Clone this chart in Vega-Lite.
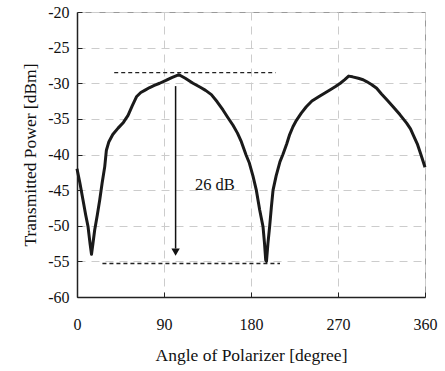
{
  "$schema": "https://vega.github.io/schema/vega-lite/v6.json",
  "autosize": "none",
  "width": 348,
  "height": 285,
  "padding": {"left": 77, "top": 12, "right": 20, "bottom": 74},
  "background": "white",
  "config": {
    "view": {"stroke": "#999999", "strokeWidth": 1},
    "font": "Liberation Serif, Times New Roman, serif",
    "axis": {
      "labelFont": "Liberation Serif, Times New Roman, serif",
      "titleFont": "Liberation Serif, Times New Roman, serif",
      "labelColor": "#111111",
      "titleColor": "#111111",
      "titleFontWeight": "normal",
      "labelFontSize": 16,
      "titleFontSize": 17.5,
      "labelOverlap": false,
      "labelFlush": false,
      "domainColor": "#222222",
      "domainWidth": 1.5,
      "tickColor": "#222222",
      "tickSize": -5,
      "gridColor": "#cccccc",
      "gridDash": [8, 6],
      "gridWidth": 1
    }
  },
  "datasets": {
    "curve": [
      {"angle": 0, "power": -42}, {"angle": 3, "power": -44}, {"angle": 6.2, "power": -46.4},
      {"angle": 9, "power": -48.5}, {"angle": 11.4, "power": -50.1}, {"angle": 13.5, "power": -52.5},
      {"angle": 15, "power": -54}, {"angle": 16.5, "power": -52.5}, {"angle": 18.3, "power": -50.6},
      {"angle": 21, "power": -48.5}, {"angle": 23.5, "power": -46.4}, {"angle": 26, "power": -44},
      {"angle": 28.7, "power": -41.7}, {"angle": 30.4, "power": -39.4}, {"angle": 33, "power": -38.2},
      {"angle": 37, "power": -37.2}, {"angle": 42.5, "power": -36.3}, {"angle": 48, "power": -35.5},
      {"angle": 52.8, "power": -34.5}, {"angle": 57, "power": -33.2}, {"angle": 61.5, "power": -31.9},
      {"angle": 66, "power": -31.3}, {"angle": 70, "power": -31.0}, {"angle": 75.2, "power": -30.6},
      {"angle": 80, "power": -30.3}, {"angle": 85.5, "power": -30.0}, {"angle": 92, "power": -29.6},
      {"angle": 98, "power": -29.2}, {"angle": 105.5, "power": -28.8}, {"angle": 112, "power": -29.3},
      {"angle": 120, "power": -30.0}, {"angle": 128, "power": -30.6}, {"angle": 133, "power": -31.0},
      {"angle": 139, "power": -31.6}, {"angle": 145, "power": -32.6}, {"angle": 151, "power": -33.75},
      {"angle": 156, "power": -34.8}, {"angle": 161.4, "power": -35.9}, {"angle": 166, "power": -37},
      {"angle": 170, "power": -38.2}, {"angle": 175, "power": -40.1}, {"angle": 178.3, "power": -41.2},
      {"angle": 182, "power": -43}, {"angle": 185.5, "power": -45}, {"angle": 189, "power": -47.8},
      {"angle": 192.4, "power": -50.1}, {"angle": 194, "power": -52.5}, {"angle": 195.2, "power": -54.8},
      {"angle": 196, "power": -55}, {"angle": 197.5, "power": -52.5}, {"angle": 199.3, "power": -50.1},
      {"angle": 201, "power": -47.5}, {"angle": 202.8, "power": -45}, {"angle": 206, "power": -43},
      {"angle": 210, "power": -41}, {"angle": 213, "power": -40}, {"angle": 217, "power": -38.5},
      {"angle": 220, "power": -37.2}, {"angle": 223.4, "power": -36.1}, {"angle": 227, "power": -35.2},
      {"angle": 232, "power": -34.2}, {"angle": 237.2, "power": -33.3}, {"angle": 243, "power": -32.5},
      {"angle": 250, "power": -31.9}, {"angle": 256, "power": -31.4}, {"angle": 262, "power": -30.9},
      {"angle": 267, "power": -30.5}, {"angle": 272.4, "power": -30.0}, {"angle": 277, "power": -29.5},
      {"angle": 281, "power": -29.0}, {"angle": 285, "power": -29.1}, {"angle": 291, "power": -29.3},
      {"angle": 296, "power": -29.5}, {"angle": 300, "power": -29.8}, {"angle": 305, "power": -30.2},
      {"angle": 310, "power": -30.7}, {"angle": 315, "power": -31.5}, {"angle": 321, "power": -32.4},
      {"angle": 327, "power": -33.3}, {"angle": 334, "power": -34.4}, {"angle": 341, "power": -35.6},
      {"angle": 345, "power": -36.4}, {"angle": 348, "power": -37.3}, {"angle": 352, "power": -38.5},
      {"angle": 356, "power": -40.1}, {"angle": 360, "power": -41.8}
    ],
    "levels": [
      {"angle": 38.5, "angle2": 205.5, "power": -28.5},
      {"angle": 26.3, "angle2": 210, "power": -55.3}
    ],
    "arrow": [
      {"angle": 102, "power": -30.4, "power2": -53.2}
    ],
    "tip": [
      {"angle": 102, "power": -53.7}
    ],
    "label": [
      {"angle": 122, "power": -44.3, "text": "26 dB"}
    ]
  },
  "encoding": {
    "x": {
      "field": "angle", "type": "quantitative",
      "scale": {"domain": [0, 360], "nice": false},
      "axis": {"values": [0, 90, 180, 270, 360], "title": "Angle of Polarizer [degree]", "labelPadding": 24, "titlePadding": 14, "grid": true}
    },
    "y": {
      "field": "power", "type": "quantitative",
      "scale": {"domain": [-60, -20], "nice": false},
      "axis": {"values": [-60, -55, -50, -45, -40, -35, -30, -25, -20], "tickCount": 9, "labelExpr": "datum.value + ''", "title": "Transmitted Power [dBm]", "labelPadding": 13, "titlePadding": 8, "grid": true}
    }
  },
  "layer": [
    {
      "data": {"name": "curve"},
      "mark": {"type": "line", "color": "#1a1a1a", "strokeWidth": 3, "strokeJoin": "round"}
    },
    {
      "data": {"name": "levels"},
      "mark": {"type": "rule", "color": "#222222", "strokeWidth": 1.3, "strokeDash": [4, 3]},
      "encoding": {
        "x2": {"field": "angle2"}
      }
    },
    {
      "data": {"name": "arrow"},
      "mark": {"type": "rule", "color": "#111111", "strokeWidth": 1.5},
      "encoding": {
        "y2": {"field": "power2"}
      }
    },
    {
      "data": {"name": "tip"},
      "mark": {"type": "point", "shape": "triangle-down", "filled": true, "color": "#111111", "size": 70, "opacity": 1}
    },
    {
      "data": {"name": "label"},
      "mark": {"type": "text", "font": "Liberation Serif, Times New Roman, serif", "fontSize": 16.5, "color": "#111111", "align": "left", "baseline": "middle"},
      "encoding": {
        "text": {"field": "text"}
      }
    }
  ]
}
